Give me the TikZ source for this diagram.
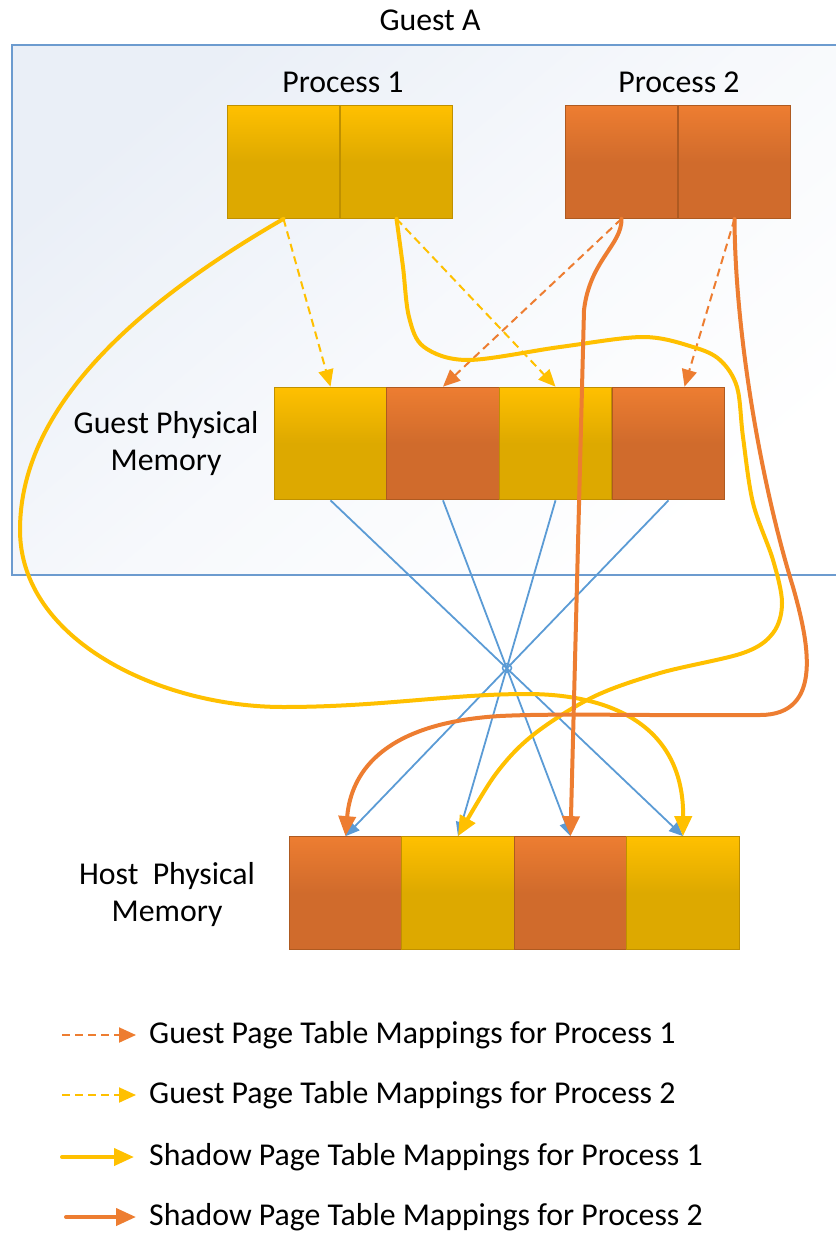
\documentclass[tikz,border=0pt]{standalone}
\usepackage{fontspec}
\setmainfont{Carlito}
\usetikzlibrary{arrows.meta}
\definecolor{yelA}{HTML}{FFC000}
\definecolor{yelB}{HTML}{DDA900}
\definecolor{yelE}{HTML}{BF9000}
\definecolor{orA}{HTML}{ED7D31}
\definecolor{orB}{HTML}{D06B2C}
\definecolor{orE}{HTML}{AE5A21}
\definecolor{blu}{HTML}{5B9BD5}
\definecolor{frameB}{HTML}{6C9BCF}
\definecolor{frameF}{HTML}{EAEFF7}
\begin{document}
\begin{tikzpicture}[x=1pt,y=-1pt,
  txt/.style={font=\fontsize{31.8}{37}\selectfont, inner sep=0pt},
  cell/.style={minimum width=112.5pt,minimum height=112.5pt,inner sep=0pt,line width=1.2pt},
  ycell/.style={cell,draw=yelE,top color=yelA,bottom color=yelB,middle color=yelB},
  ocell/.style={cell,draw=orE,top color=orA,bottom color=orB,middle color=orB},
  shY/.style={line width=4pt,color=yelA,line cap=round,-{Triangle[length=20pt,width=17pt]}},
  shO/.style={line width=4pt,color=orA,line cap=round,-{Triangle[length=20pt,width=17pt]}},
  dsY/.style={line width=2pt,color=yelA,dash pattern=on 8pt off 5pt,-{Triangle[length=17pt,width=15pt]}},
  dsO/.style={line width=2pt,color=orA,dash pattern=on 8pt off 5pt,-{Triangle[length=17pt,width=15pt]}},
  bl/.style={line width=1.8pt,color=blu,-{Triangle[length=14pt,width=12pt]}}
]
\useasboundingbox (0,0) rectangle (835,1233);
% guest frame
\shade[top color=frameF,bottom color=white,middle color=white!60!frameF,shading angle=40] (12,45) rectangle (845,575);
\draw[frameB,line width=1.5pt] (12,45) rectangle (845,575);
\node[txt] (guestA) at (430,20) {Guest A};
\node[txt] (lp1) at (343,82) {Process 1};
\node[txt] (lp2) at (679,82) {Process 2};
% process cells
\node[ycell] (p1a) at (283.5,162) {};
\node[ycell] (p1b) at (396.5,162) {};
\node[ocell] (p2a) at (621.5,162) {};
\node[ocell] (p2b) at (734.5,162) {};
% guest physical memory
\node[ycell] (g1) at (330.5,443.5) {};
\node[ocell] (g2) at (443,443.5) {};
\node[ycell] (g3) at (555.5,443.5) {};
\node[ocell] (g4) at (668.5,443.5) {};
\node[txt,align=center] (lgm) at (166,444) {Guest Physical\\Memory};
% host physical memory
\node[ocell] (h1) at (345.5,893) {};
\node[ycell] (h2) at (458,893) {};
\node[ocell] (h3) at (570.5,893) {};
\node[ycell] (h4) at (683,893) {};
\node[txt,align=center] (lhm) at (167,895) {Host\ \ Physical\\Memory};
% blue mappings
\draw[bl] (g1.south) -- (h4.north);
\draw[bl] (g2.south) -- (h3.north);
\draw[bl] (g3.south) -- (h2.north);
\draw[bl] (g4.south) -- (h1.north);
\draw[blu,line width=1.5pt] (507,668) circle (4.5pt);
% guest page table mappings
\draw[dsY] (p1a.south) -- (g1.north);
\draw[dsY] (p1b.south) -- (g3.north);
\draw[dsO] (p2a.south) -- (g2.north);
\draw[dsO] (p2b.south) -- ([xshift=16pt]g4.north);
% shadow mappings, process 1
\draw[shY] (p1a.south) .. controls (150,296) and (20,400) .. (20,530)
  .. controls (20,640) and (160,707) .. (283,707)
  .. controls (380,707) and (450,694) .. (527,694)
  .. controls (610,694) and (684,725) .. (h4.north);
\draw[shY] plot[smooth,tension=0.55] coordinates {(p1b.south) (403,267) (409,317) (424,347) (468,360) (560,347) (643,337) (693,347) (720,360) (737,387) (743,437) (753,503) (773,560) (782,603) (773,633) (743,653) (660,673) (593,697) (533,735) (495,775) (h2.north)};
% shadow mappings, process 2
\draw[shO] (p2a.south) .. controls (622,245) and (590,260) .. (584,310) -- (h3.north);
\draw[shO] (p2b.south) .. controls (735,330) and (760,480) .. (793,587)
  .. controls (808,640) and (825,715) .. (760,715)
  .. controls (650,716) and (560,713) .. (500,716)
  .. controls (400,722) and (352,760) .. (h1.north);
% legend
\coordinate (l1s) at (62,1035); \coordinate (l1e) at (136,1035);
\coordinate (l2s) at (62,1095); \coordinate (l2e) at (136,1095);
\coordinate (l3s) at (62,1157); \coordinate (l3e) at (134,1157);
\coordinate (l4s) at (66,1217); \coordinate (l4e) at (136,1217);
\draw[dsO] (l1s) -- (l1e);
\draw[dsY] (l2s) -- (l2e);
\draw[shY] (l3s) -- (l3e);
\draw[shO] (l4s) -- (l4e);
\node[txt,anchor=west] (t1) at (149,1035) {Guest Page Table Mappings for Process 1};
\node[txt,anchor=west] (t2) at (149,1095) {Guest Page Table Mappings for Process 2};
\node[txt,anchor=west] (t3) at (149,1157) {Shadow Page Table Mappings for Process 1};
\node[txt,anchor=west] (t4) at (149,1217) {Shadow Page Table Mappings for Process 2};
\end{tikzpicture}
\end{document}
